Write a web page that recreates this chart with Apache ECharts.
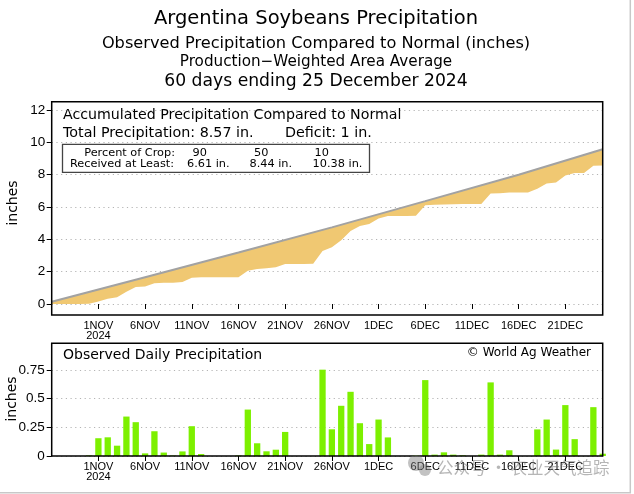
<!DOCTYPE html>
<html><head><meta charset="utf-8">
<script src="https://cdn.jsdelivr.net/npm/echarts@6/dist/echarts.min.js"></script>
<style>html,body{margin:0;padding:0;background:#fff}#c{width:634px;height:494px}</style>
</head><body><div id="c"></div>
<script>
// ---------- data ----------
const titleLines = [
  'Argentina Soybeans Precipitation',
  'Observed Precipitation Compared to Normal (inches)',
  'Production\u2212Weighted Area Average',
  '60 days ending 25 December 2024'
];
// 60 days, 27 Oct .. 25 Dec 2024 (index 0..59)
const dailyPrecip = [
  0, 0, 0, 0, 0.005, 0.155, 0.163, 0.09, 0.344, 0.295,
  0.023, 0.216, 0.03, 0.004, 0.04, 0.26, 0.017, 0, 0, 0,
  0.005, 0.405, 0.111, 0.041, 0.055, 0.21, 0, 0, 0, 0.753,
  0.233, 0.438, 0.56, 0.286, 0.104, 0.318, 0.162, 0, 0, 0.005,
  0.662, 0.012, 0.032, 0.012, 0.006, 0, 0.012, 0.642, 0.012, 0.05,
  0, 0, 0.232, 0.318, 0.056, 0.444, 0.147, 0, 0.426, 0.02
];
const accumObserved = [
  0, 0, 0, 0, 0.01, 0.16, 0.32, 0.41, 0.76, 1.05,
  1.08, 1.29, 1.32, 1.32, 1.36, 1.63, 1.65, 1.65, 1.65, 1.65,
  1.66, 2.06, 2.17, 2.21, 2.27, 2.48, 2.48, 2.48, 2.49, 3.27,
  3.51, 3.94, 4.52, 4.82, 4.95, 5.28, 5.44, 5.44, 5.44, 5.45,
  6.11, 6.13, 6.16, 6.17, 6.18, 6.18, 6.19, 6.83, 6.85, 6.90,
  6.90, 6.90, 7.13, 7.45, 7.51, 7.95, 8.10, 8.10, 8.55, 8.57
];
const normalDays = [0, 10, 20, 30, 40, 50, 59];
const normalAccum = [0.14, 1.66, 3.18, 4.74, 6.36, 7.99, 9.57];
const tickDays = [5, 10, 15, 20, 25, 30, 35, 40, 45, 50, 55];
const tickLabels = ['1NOV','6NOV','11NOV','16NOV','21NOV','26NOV','1DEC','6DEC','11DEC','16DEC','21DEC'];
const tickYear = '2024';
const topYTicks = [0, 2, 4, 6, 8, 10, 12];
const botYTicks = [0, 0.25, 0.5, 0.75];
const boxTitle = 'Accumulated Precipitation Compared to Normal';
const totalPrecip = '8.57';
const deficit = '1';
const cropPercent = ['90', '50', '10'];
const receivedAtLeast = ['6.61 in.', '8.44 in.', '10.38 in.'];
const dailyTitle = 'Observed Daily Precipitation';
const credit = '\u00A9 World Ag Weather';
const watermark = '\u516C\u4F17\u53F7 \u00B7 \u519C\u4E1A\u5929\u6C14\u8FFD\u8E2A';

// ---------- chart ----------
const SANS = "'DejaVu Sans', sans-serif";
const TICKF = "'Liberation Sans Narrow', 'Liberation Sans', sans-serif";
const chart = echarts.init(document.getElementById('c'), null, {renderer: 'canvas'});

function xLabel(v) {
  const k = tickDays.indexOf(v);
  if (k < 0) return '';
  return k === 0 ? tickLabels[k] + '\n' + tickYear : tickLabels[k];
}
function xAxisCfg(gi) {
  return {
    type: 'value', gridIndex: gi, min: 0, max: 59,
    axisLine: {show: false},
    axisTick: {show: true, length: 5, lineStyle: {color: '#000', width: 1}, customValues: tickDays},
    axisLabel: {customValues: tickDays, formatter: xLabel, color: '#000', fontFamily: TICKF,
                fontSize: 11, lineHeight: 10, margin: 5.5},
    splitLine: {show: false}
  };
}
const gridLine = {show: true, lineStyle: {color: '#b4b4b4', type: [1.2, 3.5], width: 1}};

function txt(text, x, y, size, align, extra) {
  return Object.assign({
    type: 'text', x: x, y: y, z: 50,
    style: {text: text, fontSize: size, fontFamily: SANS, fill: '#000',
            align: align || 'left', verticalAlign: 'middle'}
  }, extra || {});
}

const option = {
  animation: false,
  backgroundColor: '#fff',
  grid: [
    {left: 51.7, right: 31.3, top: 101.7, bottom: 179, show: true, borderColor: '#000', borderWidth: 1.5, z: 10},
    {left: 51.7, right: 31.3, top: 343.3, bottom: 38, show: true, borderColor: '#000', borderWidth: 1.5, z: 10}
  ],
  xAxis: [xAxisCfg(0), xAxisCfg(1)],
  yAxis: [
    {
      type: 'value', gridIndex: 0, min: -0.68, max: 12.51, splitNumber: 6,
      axisLine: {show: false},
      axisTick: {show: true, length: 5, lineStyle: {color: '#000'}, customValues: topYTicks},
      axisLabel: {customValues: topYTicks, color: '#000', fontFamily: "'Liberation Sans', sans-serif", fontSize: 13.5, margin: 6.5},
      splitLine: gridLine
    },
    {
      type: 'value', gridIndex: 1, min: 0, max: 0.983, interval: 0.25,
      axisLine: {show: false},
      axisTick: {show: true, length: 5, lineStyle: {color: '#000'}},
      axisLabel: {showMaxLabel: false, color: '#000', fontFamily: "'Liberation Sans', sans-serif", fontSize: 13.5, margin: 7,
                  formatter: function (v) { return botYTicks.indexOf(v) >= 0 ? String(v) : ''; }},
      splitLine: gridLine
    }
  ],
  series: [
    {
      type: 'custom', xAxisIndex: 0, yAxisIndex: 0, z: 2, clip: true,
      data: [[0, 0]], encode: {x: 0, y: 1}, silent: true,
      renderItem: function (params, api) {
        const pts = [];
        accumObserved.forEach(function (v, i) { pts.push(api.coord([i, v])); });
        for (let k = normalDays.length - 1; k >= 0; k--) pts.push(api.coord([normalDays[k], normalAccum[k]]));
        return {type: 'polygon', shape: {points: pts}, style: {fill: '#F0C872', stroke: null}};
      }
    },
    {
      type: 'line', xAxisIndex: 0, yAxisIndex: 0, z: 3, symbol: 'none',
      data: normalDays.map(function (d, k) { return [d, normalAccum[k]]; }),
      lineStyle: {color: '#a2a2a2', width: 2}
    },
    {
      type: 'bar', xAxisIndex: 1, yAxisIndex: 1, z: 3, barWidth: 6.3,
      data: dailyPrecip.map(function (v, i) { return [i, v]; }),
      itemStyle: {color: '#7DF000'}
    }
  ],
  graphic: [
    txt(titleLines[0], 316, 18.5, 19.5, 'center'),
    txt(titleLines[1], 316, 43.5, 16.2, 'center'),
    txt(titleLines[2], 316, 62.5, 15.2, 'center'),
    txt(titleLines[3], 316, 82, 17.2, 'center'),
    txt(boxTitle, 63, 115, 14.2),
    txt('Total Precipitation: ' + totalPrecip + ' in.', 63, 133.3, 14.3),
    txt('Deficit: ' + deficit + ' in.', 285, 133.3, 14.3),
    {type: 'rect', z: 40, shape: {x: 62.5, y: 144.3, width: 307, height: 28},
     style: {fill: '#fff', stroke: '#444', lineWidth: 1.3}},
    txt('Percent of Crop:', 175, 153.3, 11.3, 'right'),
    txt('Received at Least:', 174, 164.5, 11.3, 'right'),
    txt(cropPercent[0], 199.7, 153.3, 11.3, 'center'),
    txt(cropPercent[1], 261.2, 153.3, 11.3, 'center'),
    txt(cropPercent[2], 321.7, 153.3, 11.3, 'center'),
    txt(receivedAtLeast[0], 208.3, 164.5, 11.3, 'center'),
    txt(receivedAtLeast[1], 270.8, 164.5, 11.3, 'center'),
    txt(receivedAtLeast[2], 337.5, 164.5, 11.3, 'center'),
    txt(dailyTitle, 63, 355, 14),
    txt(credit, 591, 353.3, 12, 'right'),
    txt('inches', 13.3, 203, 14, 'center', {rotation: Math.PI / 2}),
    txt('inches', 12.5, 399, 14, 'center', {rotation: Math.PI / 2}),
    {type: 'circle', z: 60, shape: {cx: 416, cy: 463, r: 8}, style: {fill: 'rgba(120,120,120,0.45)'}},
    {type: 'circle', z: 60, shape: {cx: 425, cy: 470, r: 6}, style: {fill: 'rgba(120,120,120,0.45)'}},
    {type: 'text', z: 60, x: 437, y: 468,
     style: {text: watermark, fontSize: 16.5, fontFamily: "'Noto Sans CJK SC', sans-serif",
             fill: 'rgba(110,110,110,0.5)', align: 'left', verticalAlign: 'middle'}},
    {type: 'rect', z: 60, shape: {x: -5, y: -5, width: 635.3, height: 497.8},
     style: {fill: 'none', stroke: '#c8c8c8', lineWidth: 1.5}}
  ]
};
chart.setOption(option);
</script>
</body></html>
